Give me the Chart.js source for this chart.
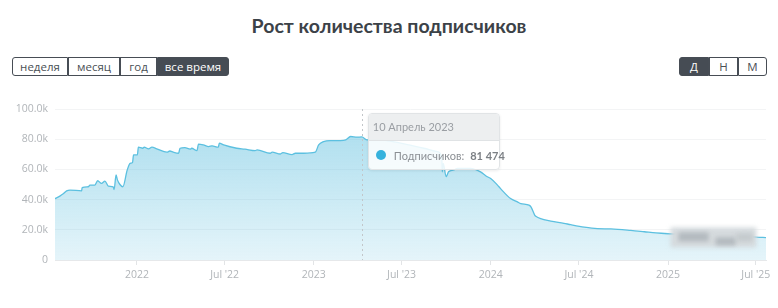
<!DOCTYPE html>
<html lang="ru">
<head>
<meta charset="utf-8">
<script src="https://cdn.jsdelivr.net/npm/chart.js@4.4.1/dist/chart.umd.min.js"></script>
<style>
    html, body { margin: 0; padding: 0; background: #fff; }
    body { width: 778px; height: 308px; position: relative; overflow: hidden; font-family: 'Open Sans', sans-serif; }
    .title { position: absolute; left: 0; top: 12px; width: 778px; text-align: center; font: bold 19.5px 'Lato', sans-serif; color: #3c4248; line-height: 28px; }
    .btns { position: absolute; top: 57px; display: flex; }
    .btns div { box-sizing: border-box; height: 19px; border: 1px solid #474d55; font-size: 11.5px; line-height: 17px; text-align: center; color: #4a4f55; background: #fff; }
    .btns div:first-child { border-radius: 3px 0 0 3px; }
    .btns div:last-child { border-radius: 0 3px 3px 0; }
    .btns div.on { background: #464c54; color: #fff; }
    #wrap { position: absolute; left: 0; top: 95px; width: 778px; height: 195px; }
    #tip { position: absolute; width: 132px; box-sizing: border-box; background: rgba(255,255,255,0.86); border: 1px solid #e1e4e6; border-radius: 4px; box-shadow: 0 1px 3px rgba(0,0,0,0.08); display: none; font-family: 'Lato', sans-serif; white-space: nowrap; }
    #tip .head { height: 26px; line-height: 26px; padding-left: 4px; font-size: 11px; color: #9a9ea3; background: rgba(235,238,239,0.92); border-bottom: 1px solid #e0e3e5; border-radius: 3px 3px 0 0; }
    #tip .body { height: 28px; display: flex; align-items: center; padding-left: 7px; font-size: 11px; color: #8b8f94; }
    #tip .dot { width: 10px; height: 10px; border-radius: 50%; background: #36b2dd; margin-right: 8px; flex: none; }
    #tip b { margin-left: 6px; color: #7c8085; font-weight: 700; }
</style>
</head>
<body>
<div class="title">Рост количества подписчиков</div>
<div class="btns" style="left:12px">
    <div style="width:56px">неделя</div><div style="width:52px">месяц</div><div style="width:37px">год</div><div class="on" style="width:72px">все время</div>
</div>
<div class="btns" style="left:679px">
    <div class="on" style="width:30px">Д</div><div style="width:29px">Н</div><div style="width:29px">М</div>
</div>
<div id="wrap"><canvas id="subsChart"></canvas></div>
<div id="tip"></div>

<script>
// --- данные --- //
const dates = [
    '2021-07-16', '2021-07-26', '2021-08-02', '2021-08-09', '2021-08-16', '2021-09-09', '2021-09-10',
    '2021-09-23', '2021-09-26', '2021-10-06', '2021-10-12', '2021-10-20', '2021-10-27', '2021-11-03',
    '2021-11-13', '2021-11-15', '2021-11-19', '2021-11-22', '2021-11-27', '2021-12-03', '2021-12-12',
    '2021-12-18', '2021-12-23', '2021-12-25', '2022-01-02', '2022-01-04', '2022-01-13', '2022-01-16',
    '2022-01-25', '2022-02-01', '2022-02-11', '2022-03-04', '2022-03-10', '2022-03-17', '2022-03-28',
    '2022-03-31', '2022-04-10', '2022-04-21', '2022-04-24', '2022-05-05', '2022-05-08', '2022-05-18',
    '2022-05-29', '2022-06-05', '2022-06-18', '2022-06-20', '2022-06-29', '2022-07-26', '2022-08-12',
    '2022-09-02', '2022-09-06', '2022-10-03', '2022-10-07', '2022-10-24', '2022-10-29', '2022-11-17',
    '2022-11-24', '2022-12-11', '2023-01-04', '2023-01-11', '2023-01-21', '2023-02-04', '2023-02-25',
    '2023-03-08', '2023-03-18', '2023-03-31', '2023-04-10', '2023-04-21', '2023-05-12', '2023-06-29',
    '2023-08-16', '2023-09-13', '2023-09-22', '2023-09-23', '2023-09-25', '2023-10-01', '2023-10-06',
    '2023-10-17', '2023-10-24', '2023-11-20', '2023-12-11', '2023-12-25', '2024-01-01', '2024-01-15',
    '2024-01-21', '2024-02-11', '2024-02-25', '2024-03-03', '2024-03-20', '2024-03-24', '2024-04-01',
    '2024-04-03', '2024-04-13', '2024-05-04', '2024-05-31', '2024-06-14', '2024-07-12', '2024-08-08',
    '2024-09-05', '2024-10-16', '2024-11-13', '2024-12-07', '2025-01-01', '2025-04-01', '2025-07-02',
    '2025-07-22'
];
const subscribers = [
    40600, 42300, 43800, 45800, 46300, 45800, 48000,
    48500, 49600, 49600, 52500, 50700, 52300, 48900,
    48500, 46700, 56300, 52900, 50000, 48500, 59600,
    64000, 64700, 69600, 69600, 74700, 74000, 74700,
    73600, 74700, 73600, 71400, 72200, 71400, 70700,
    74000, 74400, 73400, 74000, 72400, 76700, 76200,
    75100, 75600, 74700, 77400, 76200, 74000, 73400,
    72400, 72900, 70700, 71400, 70200, 71100, 69800,
    70700, 70700, 71400, 76200, 78400, 79100, 79100,
    79600, 81800, 81400, 81474, 79600, 79600, 77400,
    74000, 71800, 68000, 58400, 64000, 55200, 58400,
    59600, 60700, 60700, 58400, 55100, 54000, 49600,
    47400, 40700, 38500, 37400, 36300, 35200, 29600,
    29000, 27400, 25800, 24300, 23400, 21800, 20800,
    20600, 19600, 18700, 17900, 17400, 16300, 15200,
    14800
];
const tickDates = ['2022-01-01', '2022-07-01', '2023-01-01', '2023-07-01', '2024-01-01', '2024-07-01', '2025-01-01', '2025-07-01'];
const tickLabels = ['2022', "Jul '22", '2023', "Jul '23", '2024', "Jul '24", '2025', "Jul '25"];
const monthNames = ['Январь', 'Февраль', 'Март', 'Апрель', 'Май', 'Июнь', 'Июль', 'Август', 'Сентябрь', 'Октябрь', 'Ноябрь', 'Декабрь'];
const activeDate = '2023-04-10';

const lineColor = '#5cc0e0';
const ts = (d) => Date.parse(d);
const fmt = (n) => String(n).replace(/\B(?=(\d{3})+(?!\d))/g, ' ');

// вертикальная пунктирная линия у активной точки
const hoverLine = {
    id: 'hoverLine',
    afterDatasetsDraw(chart) {
        const act = chart.tooltip && chart.tooltip.getActiveElements();
        if (!act || !act.length) return;
        const x = act[0].element.x;
        const { ctx, chartArea: { top, bottom } } = chart;
        ctx.save();
        ctx.strokeStyle = '#c2c6c9';
        ctx.lineWidth = 1;
        ctx.setLineDash([2, 3]);
        ctx.beginPath();
        ctx.moveTo(Math.round(x) + 0.5, top);
        ctx.lineTo(Math.round(x) + 0.5, bottom);
        ctx.stroke();
        ctx.restore();
    }
};

// размытая плашка поверх конца графика
const blurPatch = {
    id: 'blurPatch',
    afterDatasetsDraw(chart) {
        const { ctx, scales: { x, y } } = chart;
        const x0 = x.getPixelForValue(ts('2025-01-06')), x1 = x.getPixelForValue(ts('2025-07-02'));
        const y0 = y.getPixelForValue(21600), y1 = y.getPixelForValue(8200);
        ctx.save();
        ctx.filter = 'blur(2px)';
        ctx.fillStyle = '#d6dbde';
        ctx.fillRect(x0, y0, x1 - x0, y1 - y0);
        ctx.fillStyle = '#b3babf';
        ctx.fillRect(x0 + 8, y0 + 5, 30, 9);
        ctx.fillRect(x0 + 45, y0 + 10, 20, 8);
        ctx.fillStyle = '#c4cacd';
        ctx.fillRect(x0 + 66, y0 + 6, 16, 8);
        ctx.restore();
    }
};

function externalTip(context) {
    const { chart, tooltip } = context;
    const el = document.getElementById('tip');
    if (tooltip.opacity === 0 || !tooltip.dataPoints || !tooltip.dataPoints.length) { el.style.display = 'none'; return; }
    const dp = tooltip.dataPoints[0];
    const d = new Date(dp.parsed.x);
    el.innerHTML = '<div class="head">' + d.getUTCDate() + ' ' + monthNames[d.getUTCMonth()] + ' ' + d.getUTCFullYear() + '</div>' +
        '<div class="body"><span class="dot"></span><span>Подписчиков:</span><b>' + fmt(dp.parsed.y) + '</b></div>';
    el.style.display = 'block';
    el.style.left = (chart.canvas.offsetParent.offsetLeft + tooltip.caretX + 6) + 'px';
    el.style.top = (chart.canvas.offsetParent.offsetTop + chart.chartArea.top + 4) + 'px';
}

const points = dates.map((d, i) => ({ x: ts(d), y: subscribers[i] }));

const chart = new Chart(document.getElementById('subsChart'), {
    type: 'line',
    data: {
        datasets: [{
            label: 'Подписчиков',
            data: points,
            borderColor: lineColor,
            borderWidth: 1.3,
            pointRadius: 0,
            pointHoverRadius: 0,
            cubicInterpolationMode: 'monotone',
            fill: 'origin',
            backgroundColor: (c) => {
                const area = c.chart.chartArea;
                if (!area) return 'rgba(92,192,224,0.4)';
                const g = c.chart.ctx.createLinearGradient(0, area.top, 0, area.bottom);
                g.addColorStop(0, 'rgba(92,190,222,0.55)');
                g.addColorStop(1, 'rgba(92,190,222,0.16)');
                return g;
            }
        }]
    },
    plugins: [hoverLine, blurPatch],
    options: {
        responsive: true,
        maintainAspectRatio: false,
        animation: false,
        layout: { padding: { top: 14, right: 12, left: 0, bottom: 0 } },
        interaction: { mode: 'index', intersect: false },
        plugins: {
            legend: { display: false },
            tooltip: { enabled: false, external: externalTip }
        },
        scales: {
            x: {
                type: 'linear',
                min: ts(dates[0]),
                max: ts(dates[dates.length - 1]),
                afterBuildTicks: (s) => { s.ticks = tickDates.map((d) => ({ value: ts(d) })); },
                afterFit: (s) => { s.height = 30; },
                grid: { drawOnChartArea: false, drawTicks: true, tickLength: 5, color: '#e2e4e6' },
                border: { color: '#e6e8ea' },
                ticks: {
                    color: '#b1b5b9',
                    font: { family: 'Open Sans', size: 10.5 },
                    padding: 4,
                    maxRotation: 0,
                    autoSkip: false,
                    callback: (v) => { const i = tickDates.findIndex((d) => ts(d) === v); return i >= 0 ? tickLabels[i] : ''; }
                }
            },
            y: {
                min: 0,
                max: 100000,
                afterFit: (s) => { s.width = 55; },
                grid: { color: '#f3f4f5', drawTicks: false },
                border: { display: false },
                ticks: {
                    stepSize: 20000,
                    color: '#b1b5b9',
                    font: { family: 'Open Sans', size: 10.5 },
                    padding: 7,
                    callback: (v) => v === 0 ? '0' : (v / 1000).toFixed(1) + 'k'
                }
            }
        }
    }
});

const idx = dates.indexOf(activeDate);
const pt = chart.getDatasetMeta(0).data[idx];
chart.setActiveElements([{ datasetIndex: 0, index: idx }]);
chart.tooltip.setActiveElements([{ datasetIndex: 0, index: idx }], { x: pt.x, y: pt.y });
chart.update();
</script>
</body>
</html>
